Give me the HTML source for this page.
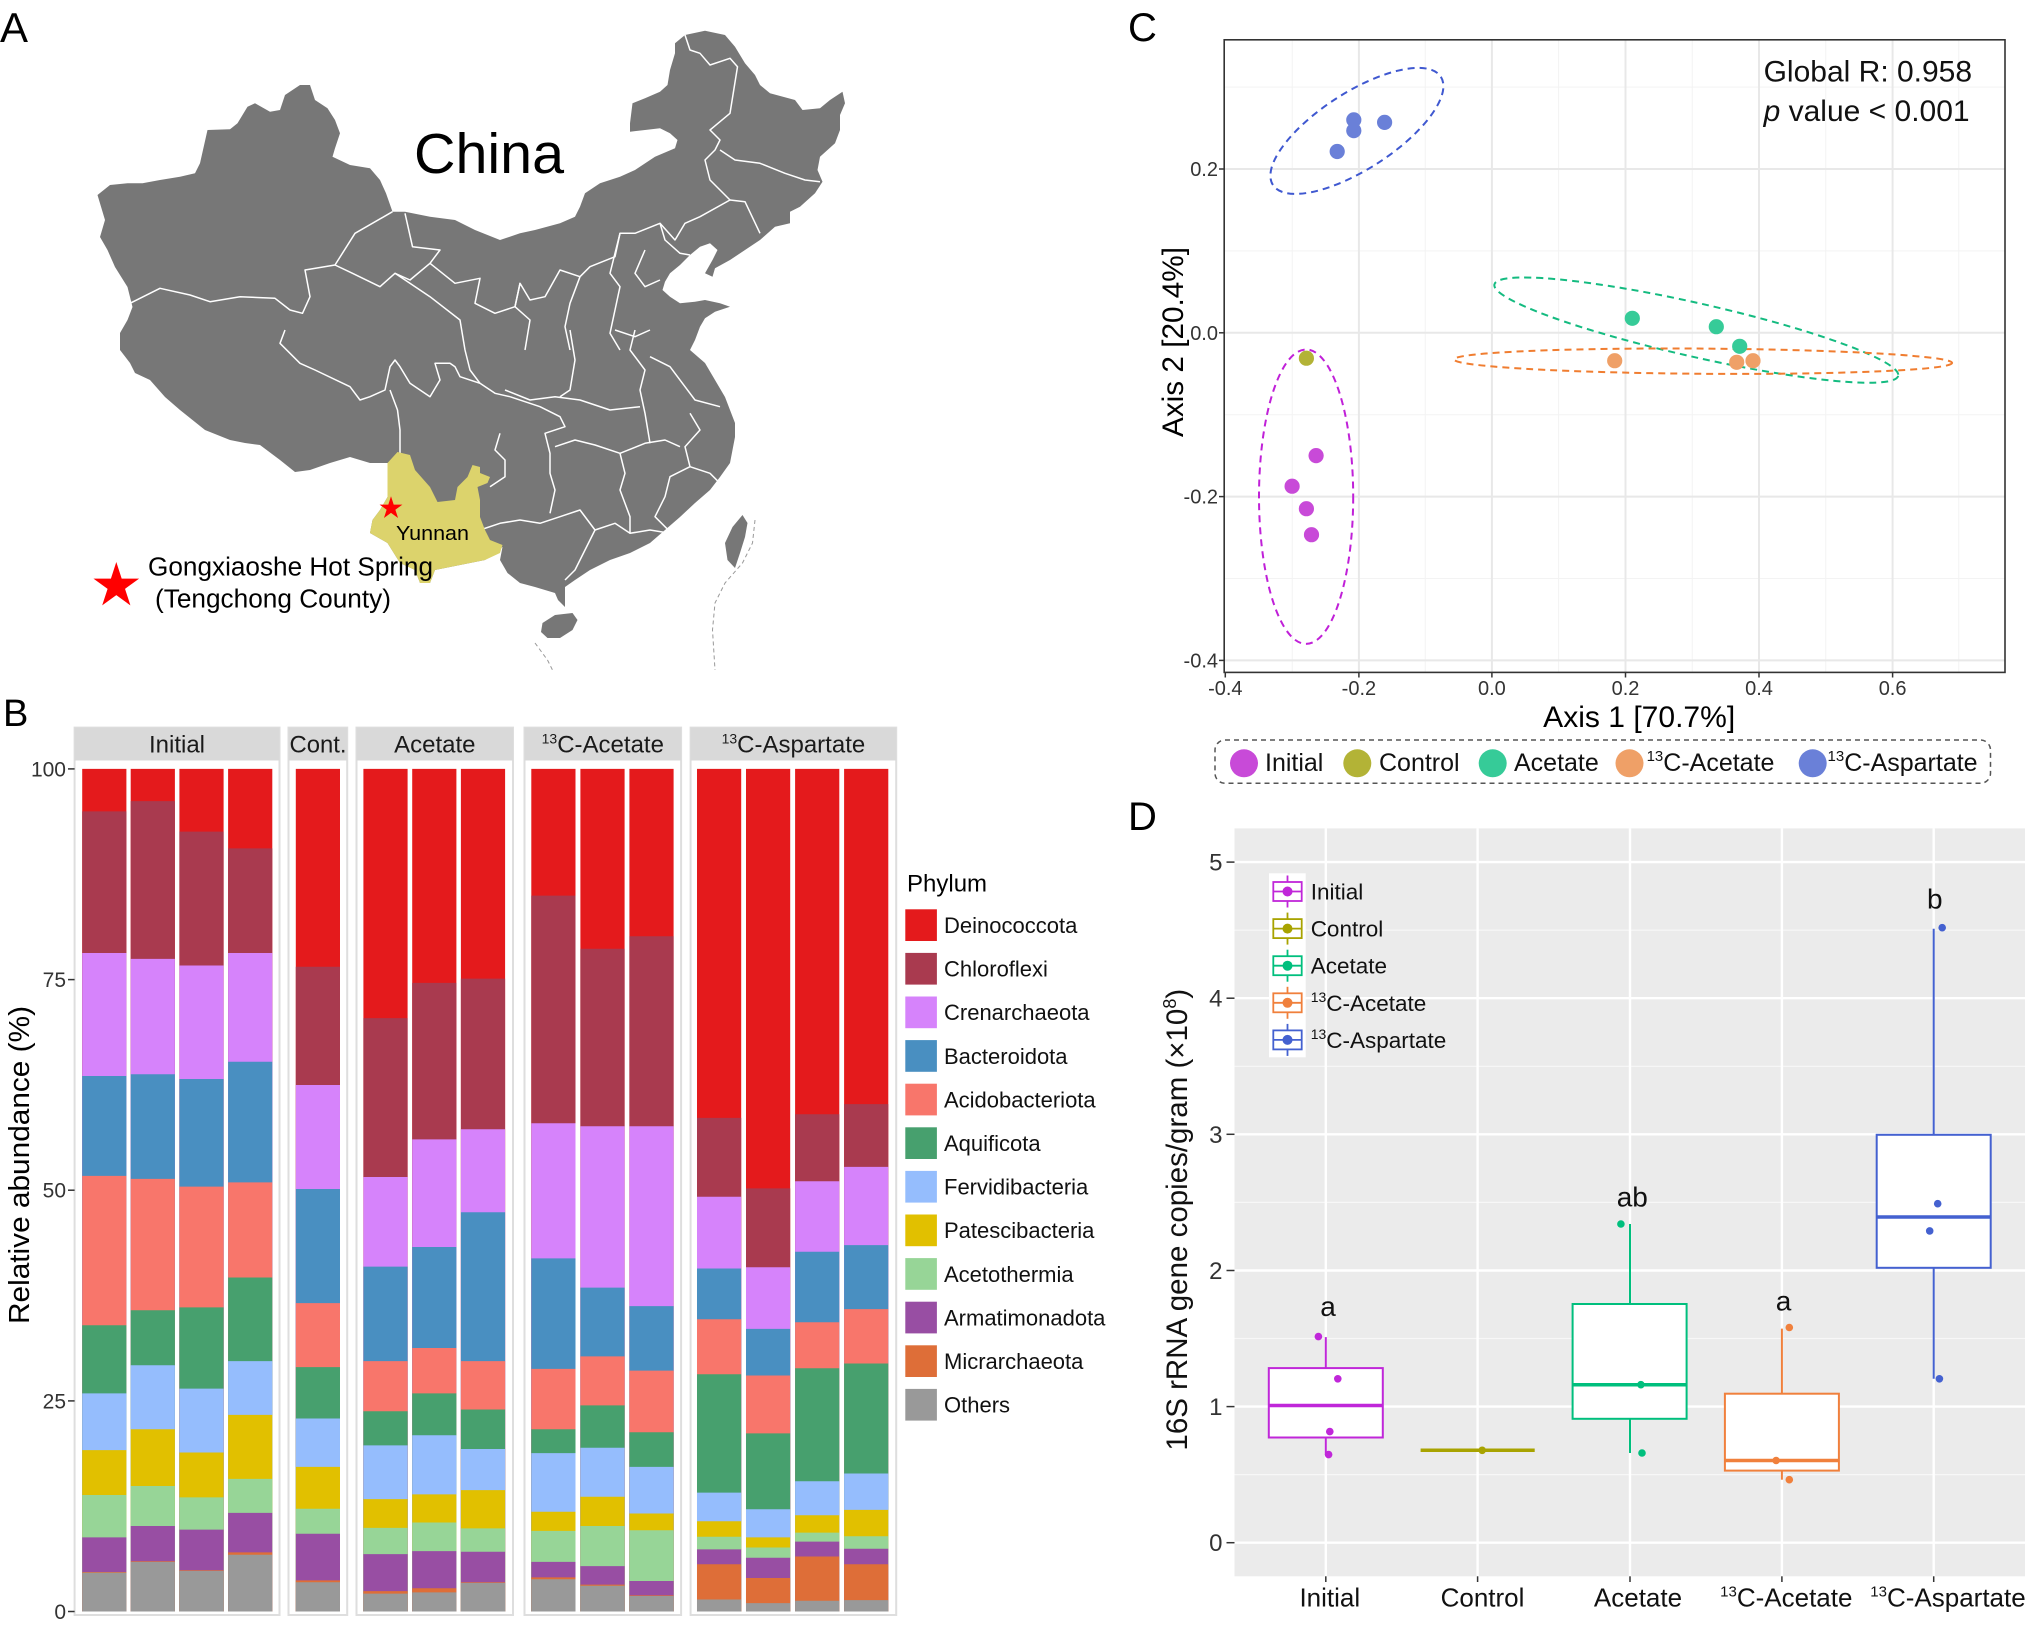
<!DOCTYPE html>
<html><head><meta charset="utf-8"><style>
html,body{margin:0;padding:0;background:#fff;}
svg{display:block;}
text{font-family:"Liberation Sans",Arial,sans-serif;}
.s line{stroke-width:44.2;}
.d{stroke:#e41a1c}.c{stroke:#a93a4f}.r{stroke:#d683fb}.b{stroke:#498fc1}.a{stroke:#f8766b}.q{stroke:#47a06e}
.f{stroke:#95bdfd}.p{stroke:#e1c000}.t{stroke:#97d597}.m{stroke:#984ea3}.h{stroke:#de6e38}.o{stroke:#999999}
</style></head><body>
<svg width="2025" height="1627" viewBox="0 0 2025 1627" xmlns="http://www.w3.org/2000/svg">
<rect width="2025" height="1627" fill="#fff"/>

<!-- ============ PANEL A: MAP ============ -->
<text x="0" y="42" font-size="42">A</text>
<polygon fill="#777777" points="97.5,195 110,185 127.5,183.3 142.5,183.3 160,180 180,176.7 195,173.3 200,163.3 207.5,130 230,129.3 237.5,123.3 247.5,106.7 255,103.3 270,111.7 280,110 285,95 300,85 310,85 315,100 327.5,108.3 335,120 340,133.3 335,148.3 332.5,156.7 350,165 370,168.3 380,180 386,193.3 392.5,211.7 405,211.7 430,216.7 455,220 475,230 500,240 520,233.3 535,230 560,223.3 575,216.7 580,206.7 585,193.3 600,183.3 620,176.7 635,170 655,156.7 675,148.3 677.5,140 670,133.3 660,128.3 645,130 630,131.7 630,123.3 632.5,103.3 645,98.3 660,91.7 667.5,85 670,70 675,53.3 675,43.3 685,35 705,30.7 725,35 735,46.7 745,63.3 755,75 760,85 770,93.3 795,100 802.5,110 820,108.3 830,100 842.5,91.7 845,103.3 840,115 840,130 835,143.3 820,156.7 817.5,170 822.5,181.7 815,193.3 800,206.7 790,211.7 790,223.3 775,226.7 760,240 745,250 730,260 715,268.3 712.5,276.7 705,273.3 712.5,260 717.5,250 710,243.3 700,246.7 690,255 680,265 670,273.3 665,281.7 662.5,290 670,296.7 680,303.3 695,301.7 705,300 720,303.3 730,306.7 715,311.7 705,318.3 700,326.7 695,340 690,350 705,363 715,380 725,397 730,410 735,423 735,437 732.5,450 730,463 720,477 710,490 695,503 680,517 665,530 650,543 630,553 610,560 590,570 575,580 565,587 565,607 558,600 555,593 535,587 520,583 507.5,573 500,560 502.5,547 485,560 470,563 450,567 435,570 430,583 420,583 415,570 400,563 387.5,543 370,533 372.5,520 380,510 387.5,497 387.5,473 387.5,463 370,463 350,457 330,463 310,470 295,472 280,460 260,445 245,443 230,440 205,430 180,410 165,397 150,380 135,373 130,363 120,350 120,333 127.5,320 132.5,307 127.5,287 115,267 107.5,250 100,237 105,220"/>
<polygon fill="#777777" points="542.5,623 555,615 572.5,613 577.5,620 572.5,630 560,638 547.5,638 541,632"/>
<polygon fill="#777777" points="742.5,515 747.5,523 745,537 740,553 735,568 727.5,560 725,543 732.5,527"/>
<g fill="none" stroke="#ffffff" stroke-width="1.5" stroke-linejoin="round">
<polyline points="130,303.3 160,288.3 190,295 210,301.7 240,296.7 275,298.3 290,310 302.5,313.3 310,296.7 305,270 335,265 355,233.3 392.5,211.7"/>
<polyline points="335,265 352.5,273.3 380,286.7 395,273.3 410,280 430,263.3 440,250 412.5,246.7 405,213.3"/>
<polyline points="395,273.3 430,296.7 460,320 465,350"/>
<polyline points="430,263.3 455,283.3 480,278.3 475,303.3 495,313.3 515,306.7 520,283.3 530,300 545,296.7 560,270 580,276.7"/>
<polyline points="580,276.7 590,266.7 615,256.7 620,233.3 635,233.3 660,223.3 675,240 685,223.3 700,216.7 730,200 745,201.7 760,233.3"/>
<polyline points="685,35 690,50 700,53.3 710,65 730,58.3 737.5,66.7 730,113.3 710,130 720,140 715,150 705,160 710,180 730,200"/>
<polyline points="720,150 735,160 760,163.3 785,173.3 805,180 820,181.7"/>
<polyline points="620,233.3 610,273.3 620,286.7 615,310 610,333.3 620,350"/>
<polyline points="580,276.7 570,303.3 565,326.7 570,350"/>
<polyline points="520,283.3 515,306.7 530,320 525,350"/>
<polyline points="645,250 635,273.3 645,286.7 660,280"/>
<polyline points="615,330 635,336.7 650,330"/>
<polyline points="660,223.3 665,240 680,253.3 690,255"/>
<polyline points="285,330 280,343.3 300,363.3 315,370 350,386.7 360,400 370,396.7 385,390 390,366.7 395,360 400,366.7 410,383.3 430,396.7 440,380 435,363.3 450,363.3 455,366.7 460,376.7 480,383.3 495,393.3 510,396.7"/>
<polyline points="390,390 397.5,410 400,430 400,453.3"/>
<polyline points="510,396.7 540,406.7 560,416.7 565,426.7 545,433.3 550,453.3 550,473.3 555,490 550,513.3"/>
<polyline points="500,433.3 495,450 505,460 505,476.7 490,486.7"/>
<polyline points="480,530 500,523.3 520,520 540,523.3 560,516.7 580,510 595,530 615,523.3 630,533.3 650,530 670,533.3 690,530"/>
<polyline points="555,446.7 575,440 595,445 620,453.3 645,443.3 665,440 680,446.7"/>
<polyline points="505,390 530,400 555,396.7 580,400 610,410 640,406.7"/>
<polyline points="570,330 575,360 570,390 560,396.7"/>
<polyline points="635,330 630,350 645,370 640,390 645,413.3 650,443.3"/>
<polyline points="690,413.3 700,430 685,446.7 690,466.7 670,476.7 665,496.7 655,516.7 675,536.7"/>
<polyline points="620,453.3 625,473.3 620,490 630,516.7 630,533.3"/>
<polyline points="595,530 585,550 575,570 565,580"/>
<polyline points="650,356.7 670,366.7 685,386.7 695,400 720,406.7"/>
<polyline points="690,466.7 710,473.3 720,483.3"/>
<polyline points="465,350 470,370 480,383.3"/>
</g>
<polygon fill="#dcd36c" points="397.5,452 410,455 415,470 430,487 437.5,502 455,500 457.5,487 467.5,477 472.5,465 480,467 480,473 490,477 487.5,483 477.5,487 480,500 480,517 485,530 490,540 502.5,545 500,553 485,560 470,563 450,567 435,570 430,583 420,583 415,570 400,563 387.5,543 370,533 372.5,520 380,510 387.5,497 387.5,473 387.5,463"/>
<g fill="none" stroke="#999" stroke-width="1" stroke-dasharray="4,3">
<polyline points="755,520 752.5,543 742.5,563 725,583 715,603 712.5,630 715,670"/>
<polyline points="535,643 547.5,660 552.5,670"/>
</g>
<text x="414" y="173" font-size="57" textLength="150" lengthAdjust="spacingAndGlyphs">China</text>
<polygon fill="#ff0000" transform="translate(391,508.3) scale(12)" points="0,-1 0.2245,-0.309 0.951,-0.309 0.363,0.118 0.588,0.809 0,0.382 -0.588,0.809 -0.363,0.118 -0.951,-0.309 -0.2245,-0.309"/>
<text x="396" y="540" font-size="20.5" textLength="73" lengthAdjust="spacingAndGlyphs">Yunnan</text>
<polygon fill="#ff0000" transform="translate(116.3,586) scale(24)" points="0,-1 0.2245,-0.309 0.951,-0.309 0.363,0.118 0.588,0.809 0,0.382 -0.588,0.809 -0.363,0.118 -0.951,-0.309 -0.2245,-0.309"/>
<text x="148" y="575.7" font-size="25.5" textLength="285" lengthAdjust="spacingAndGlyphs">Gongxiaoshe Hot Spring</text>
<text x="155" y="607.3" font-size="25.5" textLength="236" lengthAdjust="spacingAndGlyphs">(Tengchong County)</text>

<!-- ============ PANEL B: BARS ============ -->
<text x="3" y="726" font-size="38">B</text>
<g fill="#fff" stroke="#dedede" stroke-width="2">
<rect x="74.6" y="727.6" width="204.9" height="887.4"/>
<rect x="288.5" y="727.6" width="58.7" height="887.4"/>
<rect x="356.5" y="727.6" width="156.5" height="887.4"/>
<rect x="524.5" y="727.6" width="156.6" height="887.4"/>
<rect x="690.6" y="727.6" width="205.6" height="887.4"/>
</g>
<g fill="#d9d9d9">
<rect x="74.6" y="727.6" width="204.9" height="32.9"/>
<rect x="288.5" y="727.6" width="58.7" height="32.9"/>
<rect x="356.5" y="727.6" width="156.5" height="32.9"/>
<rect x="524.5" y="727.6" width="156.6" height="32.9"/>
<rect x="690.6" y="727.6" width="205.6" height="32.9"/>
</g>
<g font-size="24" text-anchor="middle" fill="#1a1a1a">
<text x="177" y="752.5">Initial</text>
<text x="318" y="752.5" textLength="57" lengthAdjust="spacingAndGlyphs">Cont.</text>
<text x="434.8" y="752.5">Acetate</text>
<text x="602.8" y="752.5"><tspan font-size="14" dy="-9">13</tspan><tspan dy="9">C-Acetate</tspan></text>
<text x="793.4" y="752.5"><tspan font-size="14" dy="-9">13</tspan><tspan dy="9">C-Aspartate</tspan></text>
</g>
<g class="s">
<g transform="translate(104.3,690) scale(1,0.5976)">
<line class="d" y1="132" y2="1542"/><line class="c" y1="203" y2="1542"/><line class="r" y1="440" y2="1542"/><line class="b" y1="646" y2="1542"/><line class="a" y1="813" y2="1542"/><line class="q" y1="1063" y2="1542"/><line class="f" y1="1177" y2="1542"/><line class="p" y1="1272" y2="1542"/><line class="t" y1="1347" y2="1542"/><line class="m" y1="1418" y2="1542"/><line class="h" y1="1476" y2="1542"/><line class="o" y1="1477" y2="1542"/></g>
<g transform="translate(152.8,690) scale(1,0.5976)">
<line class="d" y1="132" y2="1542"/><line class="c" y1="186" y2="1542"/><line class="r" y1="450" y2="1542"/><line class="b" y1="643" y2="1542"/><line class="a" y1="818" y2="1542"/><line class="q" y1="1038" y2="1542"/><line class="f" y1="1130" y2="1542"/><line class="p" y1="1237" y2="1542"/><line class="t" y1="1332" y2="1542"/><line class="m" y1="1399" y2="1542"/><line class="h" y1="1458" y2="1542"/><line class="o" y1="1459" y2="1542"/></g>
<g transform="translate(201.5,690) scale(1,0.5976)">
<line class="d" y1="132" y2="1542"/><line class="c" y1="237" y2="1542"/><line class="r" y1="461" y2="1542"/><line class="b" y1="651" y2="1542"/><line class="a" y1="831" y2="1542"/><line class="q" y1="1033" y2="1542"/><line class="f" y1="1169" y2="1542"/><line class="p" y1="1276" y2="1542"/><line class="t" y1="1351" y2="1542"/><line class="m" y1="1405" y2="1542"/><line class="h" y1="1473" y2="1542"/><line class="o" y1="1474" y2="1542"/></g>
<g transform="translate(250.2,690) scale(1,0.5976)">
<line class="d" y1="132" y2="1542"/><line class="c" y1="265" y2="1542"/><line class="r" y1="440" y2="1542"/><line class="b" y1="622" y2="1542"/><line class="a" y1="824" y2="1542"/><line class="q" y1="983" y2="1542"/><line class="f" y1="1123" y2="1542"/><line class="p" y1="1213" y2="1542"/><line class="t" y1="1320" y2="1542"/><line class="m" y1="1377" y2="1542"/><line class="h" y1="1443" y2="1542"/><line class="o" y1="1447" y2="1542"/></g>
<g transform="translate(317.9,690) scale(1,0.5976)">
<line class="d" y1="132" y2="1542"/><line class="c" y1="463" y2="1542"/><line class="r" y1="661" y2="1542"/><line class="b" y1="835" y2="1542"/><line class="a" y1="1026" y2="1542"/><line class="q" y1="1133" y2="1542"/><line class="f" y1="1219" y2="1542"/><line class="p" y1="1300" y2="1542"/><line class="t" y1="1370" y2="1542"/><line class="m" y1="1412" y2="1542"/><line class="h" y1="1490" y2="1542"/><line class="o" y1="1493" y2="1542"/></g>
<g transform="translate(385.5,690) scale(1,0.5976)">
<line class="d" y1="132" y2="1542"/><line class="c" y1="549" y2="1542"/><line class="r" y1="815" y2="1542"/><line class="b" y1="965" y2="1542"/><line class="a" y1="1123" y2="1542"/><line class="q" y1="1207" y2="1542"/><line class="f" y1="1264" y2="1542"/><line class="p" y1="1354" y2="1542"/><line class="t" y1="1402" y2="1542"/><line class="m" y1="1446" y2="1542"/><line class="h" y1="1508" y2="1542"/><line class="o" y1="1512" y2="1542"/></g>
<g transform="translate(434.3,690) scale(1,0.5976)">
<line class="d" y1="132" y2="1542"/><line class="c" y1="490" y2="1542"/><line class="r" y1="752" y2="1542"/><line class="b" y1="932" y2="1542"/><line class="a" y1="1101" y2="1542"/><line class="q" y1="1177" y2="1542"/><line class="f" y1="1247" y2="1542"/><line class="p" y1="1346" y2="1542"/><line class="t" y1="1393" y2="1542"/><line class="m" y1="1441" y2="1542"/><line class="h" y1="1503" y2="1542"/><line class="o" y1="1510" y2="1542"/></g>
<g transform="translate(483,690) scale(1,0.5976)">
<line class="d" y1="132" y2="1542"/><line class="c" y1="483" y2="1542"/><line class="r" y1="735" y2="1542"/><line class="b" y1="874" y2="1542"/><line class="a" y1="1123" y2="1542"/><line class="q" y1="1204" y2="1542"/><line class="f" y1="1270" y2="1542"/><line class="p" y1="1339" y2="1542"/><line class="t" y1="1403" y2="1542"/><line class="m" y1="1442" y2="1542"/><line class="h" y1="1493" y2="1542"/><line class="o" y1="1494" y2="1542"/></g>
<g transform="translate(553.4,690) scale(1,0.5976)">
<line class="d" y1="132" y2="1542"/><line class="c" y1="344" y2="1542"/><line class="r" y1="725" y2="1542"/><line class="b" y1="951" y2="1542"/><line class="a" y1="1136" y2="1542"/><line class="q" y1="1237" y2="1542"/><line class="f" y1="1277" y2="1542"/><line class="p" y1="1375" y2="1542"/><line class="t" y1="1407" y2="1542"/><line class="m" y1="1459" y2="1542"/><line class="h" y1="1485" y2="1542"/><line class="o" y1="1488" y2="1542"/></g>
<g transform="translate(602.5,690) scale(1,0.5976)">
<line class="d" y1="132" y2="1542"/><line class="c" y1="433" y2="1542"/><line class="r" y1="730" y2="1542"/><line class="b" y1="1000" y2="1542"/><line class="a" y1="1115" y2="1542"/><line class="q" y1="1197" y2="1542"/><line class="f" y1="1268" y2="1542"/><line class="p" y1="1350" y2="1542"/><line class="t" y1="1399" y2="1542"/><line class="m" y1="1466" y2="1542"/><line class="h" y1="1497" y2="1542"/><line class="o" y1="1499" y2="1542"/></g>
<g transform="translate(651.5,690) scale(1,0.5976)">
<line class="d" y1="132" y2="1542"/><line class="c" y1="412" y2="1542"/><line class="r" y1="730" y2="1542"/><line class="b" y1="1031" y2="1542"/><line class="a" y1="1139" y2="1542"/><line class="q" y1="1242" y2="1542"/><line class="f" y1="1300" y2="1542"/><line class="p" y1="1378" y2="1542"/><line class="t" y1="1406" y2="1542"/><line class="m" y1="1491" y2="1542"/><line class="h" y1="1515" y2="1542"/><line class="o" y1="1516" y2="1542"/></g>
<g transform="translate(719.1,690) scale(1,0.5976)">
<line class="d" y1="132" y2="1542"/><line class="c" y1="716" y2="1542"/><line class="r" y1="848" y2="1542"/><line class="b" y1="968" y2="1542"/><line class="a" y1="1053" y2="1542"/><line class="q" y1="1145" y2="1542"/><line class="f" y1="1343" y2="1542"/><line class="p" y1="1391" y2="1542"/><line class="t" y1="1417" y2="1542"/><line class="m" y1="1438" y2="1542"/><line class="h" y1="1463" y2="1542"/><line class="o" y1="1522" y2="1542"/></g>
<g transform="translate(768.1,690) scale(1,0.5976)">
<line class="d" y1="132" y2="1542"/><line class="c" y1="834" y2="1542"/><line class="r" y1="966" y2="1542"/><line class="b" y1="1069" y2="1542"/><line class="a" y1="1147" y2="1542"/><line class="q" y1="1244" y2="1542"/><line class="f" y1="1371" y2="1542"/><line class="p" y1="1418" y2="1542"/><line class="t" y1="1435" y2="1542"/><line class="m" y1="1452" y2="1542"/><line class="h" y1="1486" y2="1542"/><line class="o" y1="1528" y2="1542"/></g>
<g transform="translate(817.2,690) scale(1,0.5976)">
<line class="d" y1="132" y2="1542"/><line class="c" y1="710" y2="1542"/><line class="r" y1="822" y2="1542"/><line class="b" y1="940" y2="1542"/><line class="a" y1="1058" y2="1542"/><line class="q" y1="1135" y2="1542"/><line class="f" y1="1324" y2="1542"/><line class="p" y1="1381" y2="1542"/><line class="t" y1="1410" y2="1542"/><line class="m" y1="1425" y2="1542"/><line class="h" y1="1450" y2="1542"/><line class="o" y1="1524" y2="1542"/></g>
<g transform="translate(866.2,690) scale(1,0.5976)">
<line class="d" y1="132" y2="1542"/><line class="c" y1="693" y2="1542"/><line class="r" y1="798" y2="1542"/><line class="b" y1="929" y2="1542"/><line class="a" y1="1036" y2="1542"/><line class="q" y1="1127" y2="1542"/><line class="f" y1="1311" y2="1542"/><line class="p" y1="1372" y2="1542"/><line class="t" y1="1416" y2="1542"/><line class="m" y1="1437" y2="1542"/><line class="h" y1="1463" y2="1542"/><line class="o" y1="1523" y2="1542"/></g>
</g>
<g stroke="#333" stroke-width="1.5">
<line x1="68" y1="768.9" x2="74.6" y2="768.9"/><line x1="68" y1="979.6" x2="74.6" y2="979.6"/><line x1="68" y1="1190.2" x2="74.6" y2="1190.2"/><line x1="68" y1="1400.9" x2="74.6" y2="1400.9"/><line x1="68" y1="1611.5" x2="74.6" y2="1611.5"/>
</g>
<g font-size="21" text-anchor="end" fill="#333">
<text x="66" y="776.4">100</text><text x="66" y="987.1">75</text><text x="66" y="1197.7">50</text><text x="66" y="1408.4">25</text><text x="66" y="1619">0</text>
</g>
<text transform="translate(29,1165) rotate(-90)" font-size="29" text-anchor="middle" textLength="318" lengthAdjust="spacingAndGlyphs">Relative abundance (%)</text>
<text x="907" y="891.4" font-size="24">Phylum</text>
<g>
<rect x="905.3" y="909.3" width="31.6" height="31.7" fill="#e41a1c"/>
<rect x="905.3" y="952.9" width="31.6" height="31.7" fill="#a93a4f"/>
<rect x="905.3" y="996.5" width="31.6" height="31.7" fill="#d683fb"/>
<rect x="905.3" y="1040.1" width="31.6" height="31.7" fill="#498fc1"/>
<rect x="905.3" y="1083.7" width="31.6" height="31.7" fill="#f8766b"/>
<rect x="905.3" y="1127.3" width="31.6" height="31.7" fill="#47a06e"/>
<rect x="905.3" y="1170.9" width="31.6" height="31.7" fill="#95bdfd"/>
<rect x="905.3" y="1214.5" width="31.6" height="31.7" fill="#e1c000"/>
<rect x="905.3" y="1258.1" width="31.6" height="31.7" fill="#97d597"/>
<rect x="905.3" y="1301.7" width="31.6" height="31.7" fill="#984ea3"/>
<rect x="905.3" y="1345.3" width="31.6" height="31.7" fill="#de6e38"/>
<rect x="905.3" y="1388.9" width="31.6" height="31.7" fill="#999999"/>
</g>
<g font-size="22" fill="#111">
<text x="944" y="933">Deinococcota</text>
<text x="944" y="976.6">Chloroflexi</text>
<text x="944" y="1020.2">Crenarchaeota</text>
<text x="944" y="1063.8">Bacteroidota</text>
<text x="944" y="1107.4">Acidobacteriota</text>
<text x="944" y="1151">Aquificota</text>
<text x="944" y="1194.6">Fervidibacteria</text>
<text x="944" y="1238.2">Patescibacteria</text>
<text x="944" y="1281.8">Acetothermia</text>
<text x="944" y="1325.4">Armatimonadota</text>
<text x="944" y="1369">Micrarchaeota</text>
<text x="944" y="1412.6">Others</text>
</g>

<!-- ============ PANEL C: PCoA ============ -->
<text x="1128" y="41" font-size="40">C</text>
<rect x="1224.2" y="39.8" width="780.8" height="632.6" fill="#fff"/>
<g stroke="#f3f3f3" stroke-width="1">
<line x1="1292.2" y1="39.8" x2="1292.2" y2="672.4"/><line x1="1425.2" y1="39.8" x2="1425.2" y2="672.4"/><line x1="1558.6" y1="39.8" x2="1558.6" y2="672.4"/><line x1="1692.3" y1="39.8" x2="1692.3" y2="672.4"/><line x1="1825.7" y1="39.8" x2="1825.7" y2="672.4"/><line x1="1958.8" y1="39.8" x2="1958.8" y2="672.4"/>
<line x1="1224.2" y1="87.1" x2="2005" y2="87.1"/><line x1="1224.2" y1="250.9" x2="2005" y2="250.9"/><line x1="1224.2" y1="414.7" x2="2005" y2="414.7"/><line x1="1224.2" y1="578.5" x2="2005" y2="578.5"/>
</g>
<g stroke="#e8e8e8" stroke-width="2">
<line x1="1358.9" y1="39.8" x2="1358.9" y2="672.4"/><line x1="1491.9" y1="39.8" x2="1491.9" y2="672.4"/><line x1="1625.5" y1="39.8" x2="1625.5" y2="672.4"/><line x1="1759" y1="39.8" x2="1759" y2="672.4"/><line x1="1892.6" y1="39.8" x2="1892.6" y2="672.4"/>
<line x1="1224.2" y1="169" x2="2005" y2="169"/><line x1="1224.2" y1="332.8" x2="2005" y2="332.8"/><line x1="1224.2" y1="496.6" x2="2005" y2="496.6"/><line x1="1224.2" y1="660.4" x2="2005" y2="660.4"/>
</g>
<rect x="1224.2" y="39.8" width="780.8" height="632.6" fill="none" stroke="#333" stroke-width="1.6"/>
<g fill="none" stroke-width="2" stroke-dasharray="7,5">
<ellipse cx="1356.9" cy="130.9" rx="99.9" ry="38.4" transform="rotate(-32.8 1356.9 130.9)" stroke="#3f58d0"/>
<ellipse cx="1696.3" cy="330.1" rx="207" ry="26.8" transform="rotate(12.75 1696.3 330.1)" stroke="#14bb80"/>
<ellipse cx="1703.1" cy="361.2" rx="249" ry="12.6" transform="rotate(0.4 1703.1 361.2)" stroke="#f07d30"/>
<ellipse cx="1306.1" cy="496.7" rx="47.1" ry="147.2" stroke="#c020d8"/>
</g>
<g>
<circle cx="1353.8" cy="119.9" r="7.6" fill="#6a80d8"/><circle cx="1353.8" cy="130.6" r="7.6" fill="#6a80d8"/><circle cx="1384.6" cy="122.4" r="7.6" fill="#6a80d8"/><circle cx="1337.2" cy="151.5" r="7.6" fill="#6a80d8"/>
<circle cx="1632.3" cy="318.3" r="7.6" fill="#36cb98"/><circle cx="1716.3" cy="326.7" r="7.6" fill="#36cb98"/><circle cx="1739.7" cy="346.3" r="7.6" fill="#36cb98"/>
<circle cx="1614.7" cy="360.7" r="7.6" fill="#efa067"/><circle cx="1736.7" cy="362.3" r="7.6" fill="#efa067"/><circle cx="1753" cy="360.7" r="7.6" fill="#efa067"/>
<circle cx="1306.4" cy="358.2" r="7.6" fill="#b3b336"/>
<circle cx="1316.1" cy="455.6" r="7.6" fill="#c84ad8"/><circle cx="1292.1" cy="486.2" r="7.6" fill="#c84ad8"/><circle cx="1306.4" cy="508.7" r="7.6" fill="#c84ad8"/><circle cx="1311.5" cy="534.7" r="7.6" fill="#c84ad8"/>
</g>
<text x="1763.6" y="81.6" font-size="30" fill="#111">Global R: 0.958</text>
<text x="1763.6" y="120.9" font-size="30" fill="#111"><tspan font-style="italic">p</tspan> value &lt; 0.001</text>
<g stroke="#333" stroke-width="1.5">
<line x1="1219" y1="169" x2="1224.2" y2="169"/><line x1="1219" y1="332.8" x2="1224.2" y2="332.8"/><line x1="1219" y1="496.6" x2="1224.2" y2="496.6"/><line x1="1219" y1="660.4" x2="1224.2" y2="660.4"/>
<line x1="1225.3" y1="672.4" x2="1225.3" y2="677.5"/><line x1="1358.9" y1="672.4" x2="1358.9" y2="677.5"/><line x1="1491.9" y1="672.4" x2="1491.9" y2="677.5"/><line x1="1625.5" y1="672.4" x2="1625.5" y2="677.5"/><line x1="1759" y1="672.4" x2="1759" y2="677.5"/><line x1="1892.6" y1="672.4" x2="1892.6" y2="677.5"/>
</g>
<g font-size="20" fill="#333" text-anchor="end">
<text x="1218" y="176">0.2</text><text x="1218" y="339.8">0.0</text><text x="1218" y="503.6">-0.2</text><text x="1218" y="667.4">-0.4</text>
</g>
<g font-size="20" fill="#333" text-anchor="middle">
<text x="1225.3" y="695">-0.4</text><text x="1358.9" y="695">-0.2</text><text x="1491.9" y="695">0.0</text><text x="1625.5" y="695">0.2</text><text x="1759" y="695">0.4</text><text x="1892.6" y="695">0.6</text>
</g>
<text x="1639.2" y="727" font-size="30" text-anchor="middle" textLength="192" lengthAdjust="spacingAndGlyphs">Axis 1 [70.7%]</text>
<text transform="translate(1183,342) rotate(-90)" font-size="30" text-anchor="middle" textLength="190" lengthAdjust="spacingAndGlyphs">Axis 2 [20.4%]</text>
<rect x="1215" y="740" width="775.5" height="43.3" rx="10" fill="none" stroke="#555" stroke-width="1.5" stroke-dasharray="5,4"/>
<circle cx="1244" cy="763.3" r="14" fill="#c84ad8"/>
<circle cx="1357.3" cy="763.3" r="14" fill="#b3b336"/>
<circle cx="1492.7" cy="763.3" r="14" fill="#36cb98"/>
<circle cx="1629.5" cy="763.3" r="14" fill="#efa067"/>
<circle cx="1812.7" cy="763.3" r="14" fill="#6a80d8"/>
<g font-size="25" fill="#111">
<text x="1265" y="771">Initial</text>
<text x="1379" y="771">Control</text>
<text x="1514" y="771">Acetate</text>
<text x="1646.6" y="771"><tspan font-size="15" dy="-10">13</tspan><tspan dy="10">C-Acetate</tspan></text>
<text x="1827.5" y="771"><tspan font-size="15" dy="-10">13</tspan><tspan dy="10">C-Aspartate</tspan></text>
</g>

<!-- ============ PANEL D: BOXPLOT ============ -->
<text x="1128" y="830" font-size="40">D</text>
<rect x="1234.5" y="828.4" width="790.5" height="747.9" fill="#ebebeb"/>
<g stroke="#f7f7f7" stroke-width="1.2">
<line x1="1234.5" y1="1474.6" x2="2025" y2="1474.6"/><line x1="1234.5" y1="1338.5" x2="2025" y2="1338.5"/><line x1="1234.5" y1="1202.4" x2="2025" y2="1202.4"/><line x1="1234.5" y1="1066.3" x2="2025" y2="1066.3"/><line x1="1234.5" y1="930.2" x2="2025" y2="930.2"/>
</g>
<g stroke="#ffffff" stroke-width="2.4">
<line x1="1234.5" y1="1542.7" x2="2025" y2="1542.7"/><line x1="1234.5" y1="1406.6" x2="2025" y2="1406.6"/><line x1="1234.5" y1="1270.5" x2="2025" y2="1270.5"/><line x1="1234.5" y1="1134.3" x2="2025" y2="1134.3"/><line x1="1234.5" y1="998.2" x2="2025" y2="998.2"/><line x1="1234.5" y1="862.1" x2="2025" y2="862.1"/>
<line x1="1325.8" y1="828.4" x2="1325.8" y2="1576.3"/><line x1="1477.6" y1="828.4" x2="1477.6" y2="1576.3"/><line x1="1630" y1="828.4" x2="1630" y2="1576.3"/><line x1="1781.9" y1="828.4" x2="1781.9" y2="1576.3"/><line x1="1933.7" y1="828.4" x2="1933.7" y2="1576.3"/>
</g>
<g fill="#fff" stroke-width="2">
<line x1="1325.8" y1="1337.1" x2="1325.8" y2="1368.1" stroke="#c027d9"/><line x1="1325.8" y1="1437.5" x2="1325.8" y2="1454.6" stroke="#c027d9"/>
<rect x="1268.8" y="1368.1" width="114" height="69.4" stroke="#c027d9"/>
<line x1="1268.8" y1="1405.5" x2="1382.8" y2="1405.5" stroke="#c027d9" stroke-width="3.5"/>
<line x1="1420.6" y1="1450.3" x2="1534.7" y2="1450.3" stroke="#a8a300" stroke-width="3.5"/>
<line x1="1630" y1="1224" x2="1630" y2="1304" stroke="#00bf7d"/><line x1="1630" y1="1418.8" x2="1630" y2="1453" stroke="#00bf7d"/>
<rect x="1572.6" y="1304" width="114" height="114.8" stroke="#00bf7d"/>
<line x1="1572.6" y1="1384.7" x2="1686.6" y2="1384.7" stroke="#00bf7d" stroke-width="3.5"/>
<line x1="1781.9" y1="1328.6" x2="1781.9" y2="1393.7" stroke="#f0803c"/><line x1="1781.9" y1="1470.6" x2="1781.9" y2="1479.7" stroke="#f0803c"/>
<rect x="1724.9" y="1393.7" width="114" height="76.9" stroke="#f0803c"/>
<line x1="1724.9" y1="1460.5" x2="1838.9" y2="1460.5" stroke="#f0803c" stroke-width="3.5"/>
<line x1="1933.7" y1="928.8" x2="1933.7" y2="1134.8" stroke="#4461d0"/><line x1="1933.7" y1="1267.8" x2="1933.7" y2="1378.8" stroke="#4461d0"/>
<rect x="1876.7" y="1134.8" width="114" height="133" stroke="#4461d0"/>
<line x1="1876.7" y1="1217" x2="1990.7" y2="1217" stroke="#4461d0" stroke-width="3.5"/>
</g>
<g>
<circle cx="1318.4" cy="1336.6" r="3.8" fill="#c027d9"/><circle cx="1337.8" cy="1378.8" r="3.8" fill="#c027d9"/><circle cx="1329.8" cy="1431.6" r="3.8" fill="#c027d9"/><circle cx="1328.6" cy="1454.6" r="3.8" fill="#c027d9"/>
<circle cx="1482.2" cy="1450.3" r="3.8" fill="#a8a300"/>
<circle cx="1620.9" cy="1224" r="3.8" fill="#00bf7d"/><circle cx="1640.9" cy="1384.7" r="3.8" fill="#00bf7d"/><circle cx="1642" cy="1453" r="3.8" fill="#00bf7d"/>
<circle cx="1789.3" cy="1327.5" r="3.8" fill="#f0803c"/><circle cx="1776.1" cy="1460.5" r="3.8" fill="#f0803c"/><circle cx="1789.3" cy="1479.7" r="3.8" fill="#f0803c"/>
<circle cx="1942.2" cy="927.7" r="3.8" fill="#4461d0"/><circle cx="1937.7" cy="1203.7" r="3.8" fill="#4461d0"/><circle cx="1929.7" cy="1230.9" r="3.8" fill="#4461d0"/><circle cx="1939.4" cy="1378.8" r="3.8" fill="#4461d0"/>
</g>
<g font-size="28" text-anchor="middle" fill="#111">
<text x="1328" y="1315.8">a</text><text x="1632.3" y="1206.4">ab</text><text x="1783.6" y="1310.5">a</text><text x="1934.8" y="908.5">b</text>
</g>
<rect x="1269" y="873.3" width="36.7" height="184" fill="#fff"/>
<g stroke-width="1.8" fill="none">
<g stroke="#c027d9"><line x1="1287.5" y1="875.5" x2="1287.5" y2="907.5"/><rect x="1273.3" y="882" width="28.4" height="19" fill="#fff"/><line x1="1273.3" y1="891.5" x2="1301.7" y2="891.5"/></g>
<g stroke="#a8a300"><line x1="1287.5" y1="912.6" x2="1287.5" y2="944.6"/><rect x="1273.3" y="919.1" width="28.4" height="19" fill="#fff"/><line x1="1273.3" y1="928.6" x2="1301.7" y2="928.6"/></g>
<g stroke="#00bf7d"><line x1="1287.5" y1="949.7" x2="1287.5" y2="981.7"/><rect x="1273.3" y="956.2" width="28.4" height="19" fill="#fff"/><line x1="1273.3" y1="965.7" x2="1301.7" y2="965.7"/></g>
<g stroke="#f0803c"><line x1="1287.5" y1="986.8" x2="1287.5" y2="1018.8"/><rect x="1273.3" y="993.3" width="28.4" height="19" fill="#fff"/><line x1="1273.3" y1="1002.8" x2="1301.7" y2="1002.8"/></g>
<g stroke="#4461d0"><line x1="1287.5" y1="1023.9" x2="1287.5" y2="1055.9"/><rect x="1273.3" y="1030.4" width="28.4" height="19" fill="#fff"/><line x1="1273.3" y1="1039.9" x2="1301.7" y2="1039.9"/></g>
</g>
<circle cx="1287.5" cy="891.5" r="5" fill="#c027d9"/>
<circle cx="1287.5" cy="928.6" r="5" fill="#a8a300"/>
<circle cx="1287.5" cy="965.7" r="5" fill="#00bf7d"/>
<circle cx="1287.5" cy="1002.8" r="5" fill="#f0803c"/>
<circle cx="1287.5" cy="1039.9" r="5" fill="#4461d0"/>
<g font-size="22.5" fill="#111">
<text x="1310.7" y="899.5">Initial</text>
<text x="1310.7" y="936.6">Control</text>
<text x="1310.7" y="973.7">Acetate</text>
<text x="1310.7" y="1010.8"><tspan font-size="14" dy="-9">13</tspan><tspan dy="9">C-Acetate</tspan></text>
<text x="1310.7" y="1047.9"><tspan font-size="14" dy="-9">13</tspan><tspan dy="9">C-Aspartate</tspan></text>
</g>
<g stroke="#333" stroke-width="1.5">
<line x1="1226.5" y1="1542.7" x2="1234.5" y2="1542.7"/><line x1="1226.5" y1="1406.6" x2="1234.5" y2="1406.6"/><line x1="1226.5" y1="1270.5" x2="1234.5" y2="1270.5"/><line x1="1226.5" y1="1134.3" x2="1234.5" y2="1134.3"/><line x1="1226.5" y1="998.2" x2="1234.5" y2="998.2"/><line x1="1226.5" y1="862.1" x2="1234.5" y2="862.1"/>
<line x1="1325.8" y1="1576.3" x2="1325.8" y2="1582"/><line x1="1477.6" y1="1576.3" x2="1477.6" y2="1582"/><line x1="1630" y1="1576.3" x2="1630" y2="1582"/><line x1="1781.9" y1="1576.3" x2="1781.9" y2="1582"/><line x1="1933.7" y1="1576.3" x2="1933.7" y2="1582"/>
</g>
<g font-size="24" fill="#333" text-anchor="end">
<text x="1222.5" y="1551.2">0</text><text x="1222.5" y="1415.1">1</text><text x="1222.5" y="1279">2</text><text x="1222.5" y="1142.8">3</text><text x="1222.5" y="1006.7">4</text><text x="1222.5" y="870.6">5</text>
</g>
<g font-size="26" fill="#111" text-anchor="middle">
<text x="1329.8" y="1606.7">Initial</text>
<text x="1482.5" y="1606.7">Control</text>
<text x="1638" y="1606.7">Acetate</text>
<text x="1786.3" y="1606.7"><tspan font-size="15" dy="-10">13</tspan><tspan dy="10">C-Acetate</tspan></text>
<text x="1948" y="1606.7"><tspan font-size="15" dy="-10">13</tspan><tspan dy="10">C-Aspartate</tspan></text>
</g>
<text transform="translate(1187,1219.7) rotate(-90)" font-size="29.5" text-anchor="middle" fill="#111">16S rRNA gene copies/gram (×10<tspan font-size="18" dy="-11">8</tspan><tspan dy="11">)</tspan></text>
</svg>
</body></html>
